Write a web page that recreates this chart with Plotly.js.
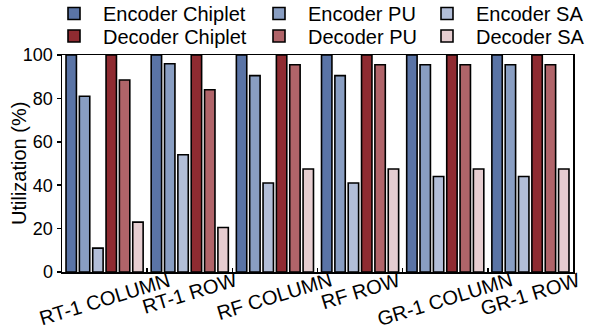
<!DOCTYPE html>
<html><head><meta charset="utf-8">
<script src="https://cdn.plot.ly/plotly-3.0.1.min.js"></script>
<style>html,body{margin:0;padding:0;background:#fff}#chart{width:589px;height:330px}</style>
</head><body><div id="chart"></div>
<script>
const categories = ["RT-1 COLUMN", "RT-1 ROW", "RF COLUMN", "RF ROW", "GR-1 COLUMN", "GR-1 ROW"];
const seriesNames = ["Encoder Chiplet", "Encoder PU", "Encoder SA", "Decoder Chiplet", "Decoder PU", "Decoder SA"];
const encoderChiplet = [100, 100, 100, 100, 100, 100];
const encoderPU = [81, 96, 90.5, 90.5, 95.5, 95.5];
const encoderSA = [11, 54, 41, 41, 44, 44];
const decoderChiplet = [100, 100, 100, 100, 100, 100];
const decoderPU = [88.5, 84, 95.5, 95.5, 95.5, 95.5];
const decoderSA = [23, 20.5, 47.5, 47.5, 47.5, 47.5];
const yTicks = [0, 20, 40, 60, 80, 100];
const yTitle = "Utilization (%)";

const seriesValues = [encoderChiplet, encoderPU, encoderSA, decoderChiplet, decoderPU, decoderSA];
const colors = ["#5a74a6", "#899ec2", "#b2bed8", "#8f2b31", "#b06469", "#e6cdd0"];
const FONT = "Liberation Sans, Arial, Helvetica, sans-serif";
const W = 589, H = 330;
// legend placement (container px): legend origin x, text-center y
const legendX = [45, 250, 418];
const legendY = [13.5, 36];

const traces = seriesValues.map((vals, i) => ({
  type: "bar",
  name: seriesNames[i],
  x: categories,
  y: vals,
  marker: {color: colors[i], line: {color: "#000", width: 1.6}},
  legend: i === 0 ? "legend" : "legend" + (i + 1),
  hoverinfo: "skip"
}));

const xLabelAnnotations = categories.map(c => ({
  x: c, xref: "x", y: 0, yref: "paper",
  xanchor: "center", yanchor: "top", yshift: 6,
  text: c, textangle: -17, showarrow: false,
  font: {size: 20, family: FONT, color: "#000"}
}));

const yTitleAnnotation = {
  x: 0, xref: "paper", xanchor: "center", xshift: -43.5,
  y: 0.5, yref: "paper", yanchor: "middle",
  text: yTitle, textangle: -90, showarrow: false,
  font: {size: 20, family: FONT, color: "#000"}
};

const layout = {
  width: W, height: H,
  margin: {l: 62, r: 16, t: 55, b: 58, pad: 0, autoexpand: false},
  paper_bgcolor: "#fff", plot_bgcolor: "#fff",
  font: {family: FONT, color: "#000", size: 18},
  barmode: "group",
  bargap: 0.06,
  bargroupgap: 0.22,
  showlegend: true,
  xaxis: {
    type: "category", range: [-0.5, 5.5], automargin: false,
    showline: true, linecolor: "#000", linewidth: 1.5, mirror: true,
    ticks: "inside", tickson: "boundaries", ticklen: 4, tickwidth: 1.5, tickcolor: "#000",
    showticklabels: false, showgrid: false, zeroline: false
  },
  yaxis: {
    range: [0, 100], tickvals: yTicks, automargin: false,
    showline: true, linecolor: "#000", linewidth: 1.5, mirror: true,
    ticks: "outside", ticklen: 4, tickwidth: 1.5, tickcolor: "#000",
    tickfont: {size: 18, family: FONT, color: "#000"},
    showgrid: false, zeroline: false
  },
  annotations: xLabelAnnotations.concat([yTitleAnnotation])
};

seriesNames.forEach((n, i) => {
  const key = i === 0 ? "legend" : "legend" + (i + 1);
  const col = i % 3, row = Math.floor(i / 3);
  layout[key] = {
    xref: "container", yref: "container",
    x: legendX[col] / W, y: 1 - legendY[row] / H,
    xanchor: "left", yanchor: "middle",
    orientation: "v", itemwidth: 48, borderwidth: 0,
    bgcolor: "rgba(0,0,0,0)",
    font: {size: 20, family: FONT, color: "#000"}
  };
});

Plotly.newPlot("chart", traces, layout, {staticPlot: true, displayModeBar: false});
</script>
</body></html>
